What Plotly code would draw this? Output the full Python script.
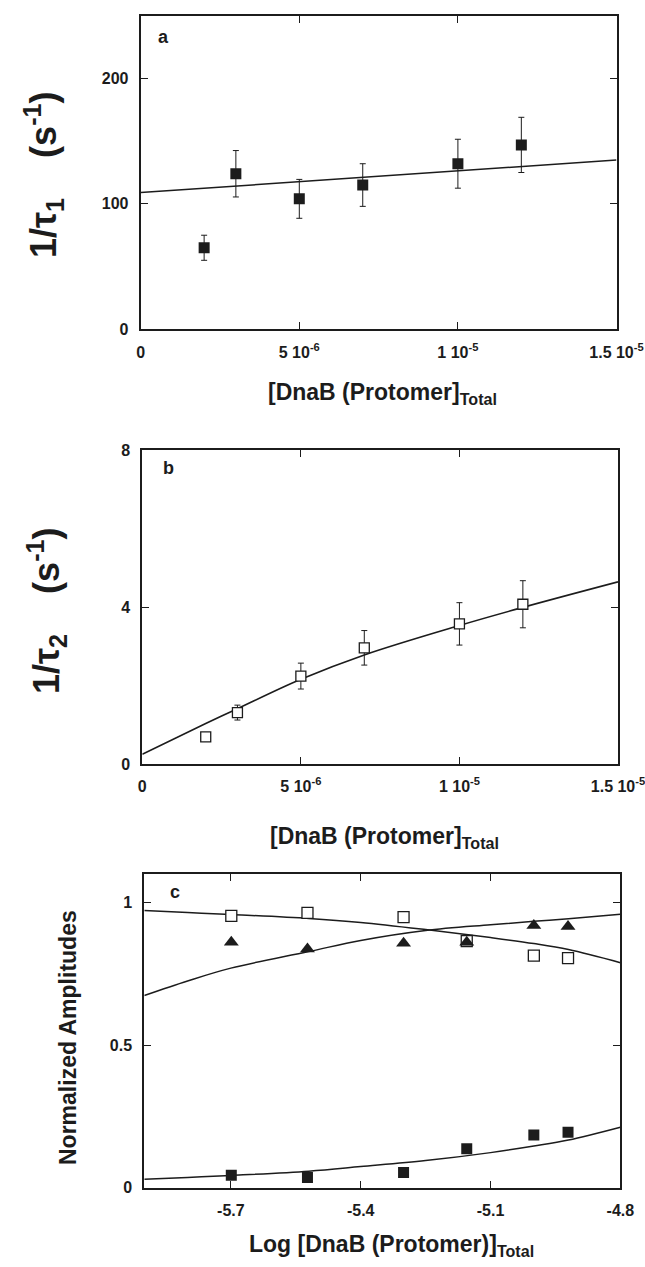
import plotly.graph_objects as go

# ---------------- data ----------------
# Panel a : 1/tau1 vs [DnaB]
a_x = [2e-6, 3e-6, 5e-6, 7e-6, 1e-5, 1.2e-5]
a_y = [65, 124, 104, 115, 132, 147]
a_err = [10, 18.5, 15.5, 17, 19.5, 22]
a_fit_x = [0, 1.5e-5]
a_fit_y = [109, 135]

# Panel b : 1/tau2 vs [DnaB]
b_x = [2e-6, 3e-6, 5e-6, 7e-6, 1e-5, 1.2e-5]
b_y = [0.69, 1.31, 2.24, 2.96, 3.57, 4.07]
b_err = [0.1, 0.19, 0.33, 0.44, 0.54, 0.6]
b_fit_x = [0, 2e-6, 3e-6, 5e-6, 7e-6, 1e-5, 1.2e-5, 1.5e-5]
b_fit_y = [0.25, 1.03, 1.41, 2.16, 2.78, 3.53, 3.99, 4.64]

# Panel c : normalized amplitudes vs log[DnaB]
c_x = [-5.699, -5.523, -5.301, -5.155, -5.0, -4.921]
c_open = [0.953, 0.964, 0.949, 0.865, 0.814, 0.805]
c_tri = [0.861, 0.837, 0.857, 0.861, 0.919, 0.916]
c_filled = [0.044, 0.036, 0.053, 0.137, 0.185, 0.194]
c_fit_x = [-5.9, -5.8, -5.7, -5.52, -5.4, -5.25, -5.1, -5.0, -4.92, -4.8]
c_fit_open = [0.972, 0.965, 0.958, 0.944, 0.930, 0.905, 0.877, 0.856, 0.835, 0.789]
c_fit_tri = [0.674, 0.725, 0.770, 0.828, 0.867, 0.902, 0.922, 0.934, 0.943, 0.959]
c_fit_filled = [0.030, 0.036, 0.043, 0.058, 0.074, 0.095, 0.123, 0.146, 0.167, 0.212]

conc_tickvals = [0, 5e-6, 1e-5, 1.5e-5]
conc_ticktext = ["0", "5 10<sup>-6</sup>", "1 10<sup>-5</sup>", "1.5 10<sup>-5</sup>"]
a_yticks = [0, 100, 200]
b_yticks = [0, 4, 8]
c_xticks = [-5.7, -5.4, -5.1, -4.8]
c_xticktext = ["-5.7", "-5.4", "-5.1", "-4.8"]
c_yticks = [0, 0.5, 1]
c_yticktext = ["0", "0.5", "1"]

# ---------------- styling ----------------
INK = "#1c1c1c"
FONT = "Liberation Sans, Arial, sans-serif"
W, H = 645, 1267


def px_x(v):
    return v / W


def px_y(v):
    return 1 - v / H


fig = go.Figure()

# Panel a
fig.add_trace(go.Scatter(x=a_fit_x, y=a_fit_y, mode="lines", line=dict(color=INK, width=1.5),
                         xaxis="x", yaxis="y", showlegend=False, hoverinfo="skip"))
fig.add_trace(go.Scatter(x=a_x, y=a_y, mode="markers",
                         marker=dict(symbol="square", size=11, color=INK),
                         error_y=dict(type="data", array=a_err, color=INK, thickness=1, width=3),
                         xaxis="x", yaxis="y", showlegend=False))

# Panel b
fig.add_trace(go.Scatter(x=b_fit_x, y=b_fit_y, mode="lines", line=dict(color=INK, width=1.6, shape="spline"),
                         xaxis="x2", yaxis="y2", showlegend=False, hoverinfo="skip"))
fig.add_trace(go.Scatter(x=b_x, y=b_y, mode="markers",
                         marker=dict(symbol="square", size=10, color="white", line=dict(color=INK, width=1.3)),
                         error_y=dict(type="data", array=b_err, color=INK, thickness=1, width=3),
                         xaxis="x2", yaxis="y2", showlegend=False))

# Panel c
for fy in (c_fit_open, c_fit_tri, c_fit_filled):
    fig.add_trace(go.Scatter(x=c_fit_x, y=fy, mode="lines", line=dict(color=INK, width=1.5, shape="spline"),
                             xaxis="x3", yaxis="y3", showlegend=False, hoverinfo="skip"))
fig.add_trace(go.Scatter(x=c_x, y=c_open, mode="markers",
                         marker=dict(symbol="square", size=11, color="white", line=dict(color=INK, width=1.3)),
                         xaxis="x3", yaxis="y3", showlegend=False))
fig.add_trace(go.Scatter(x=c_x, y=c_tri, mode="markers",
                         marker=dict(symbol="triangle-up", size=13, color=INK),
                         xaxis="x3", yaxis="y3", showlegend=False))
fig.add_trace(go.Scatter(x=c_x, y=c_filled, mode="markers",
                         marker=dict(symbol="square", size=11, color=INK),
                         xaxis="x3", yaxis="y3", showlegend=False))

tickfont = dict(family=FONT, size=16, color=INK, weight=700)

common = dict(showline=True, linecolor=INK, linewidth=2, mirror="ticks", ticks="inside",
              ticklen=7, tickwidth=1.2, tickcolor=INK, showgrid=False, zeroline=False,
              tickfont=tickfont, ticklabelstandoff=7, automargin=False,
              ticklabeloverflow="allow")

doms = {
    "a": dict(x=[px_x(140.7), px_x(616.5)], y=[px_y(329.3), px_y(15.7)]),
    "b": dict(x=[px_x(142.3), px_x(618.0)], y=[px_y(764.0), px_y(450.0)]),
    "c": dict(x=[px_x(144.3), px_x(620.4)], y=[px_y(1187.7), px_y(874.0)]),
}

fig.update_layout(
    template="none",
    width=W, height=H, margin=dict(l=0, r=0, t=0, b=0, pad=0), autosize=False,
    paper_bgcolor="white", plot_bgcolor="white", showlegend=False,
    xaxis=dict(domain=doms["a"]["x"], anchor="y", range=[0, 1.5e-5], tickvals=conc_tickvals,
               ticktext=conc_ticktext, **common),
    yaxis=dict(domain=doms["a"]["y"], anchor="x", range=[0, 250], tickvals=a_yticks, **common),
    xaxis2=dict(domain=doms["b"]["x"], anchor="y2", range=[0, 1.5e-5], tickvals=conc_tickvals,
                ticktext=conc_ticktext, **common),
    yaxis2=dict(domain=doms["b"]["y"], anchor="x2", range=[0, 8], tickvals=b_yticks, **common),
    xaxis3=dict(domain=doms["c"]["x"], anchor="y3", range=[-5.9, -4.8], tickvals=c_xticks,
                ticktext=c_xticktext, **common),
    yaxis3=dict(domain=doms["c"]["y"], anchor="x3", range=[0, 1.1], tickvals=c_yticks,
                ticktext=c_yticktext, **common),
)

# axis titles (placed as annotations for exact positioning)
xtitlefont = dict(family=FONT, size=23, color=INK, weight=700)
ytitlefont = dict(family=FONT, size=36, color=INK, weight=700)
ctitlefont = dict(family=FONT, size=23, color=INK, weight=700)
gap = "\u00a0" * 4
titles = [
    ("[DnaB (Protomer]<sub>Total</sub>", 382, 393, 0, xtitlefont),
    ("[DnaB (Protomer]<sub>Total</sub>", 385, 837, 0, xtitlefont),
    ("Log [DnaB (Protomer)]<sub>Total</sub>", 391, 1245, 0, xtitlefont),
    ("1/τ<sub>1</sub>" + gap + "(s<sup>-1</sup>)", 44, 175, -90, ytitlefont),
    ("1/τ<sub>2</sub>" + gap + "(s<sup>-1</sup>)", 46, 611, -90, ytitlefont),
    ("Normalized Amplitudes", 68, 1038, -90, ctitlefont),
]
for text, tx, ty, ang, fnt in titles:
    fig.add_annotation(text=text, x=px_x(tx), y=px_y(ty), xref="paper", yref="paper",
                       showarrow=False, font=fnt, textangle=ang,
                       xanchor="center", yanchor="middle")

panel_font = dict(family=FONT, size=18, color=INK, weight=700)
for label, (lx, ly) in {"a": (163, 37), "b": (168, 468), "c": (175, 892)}.items():
    fig.add_annotation(text=label, x=px_x(lx), y=px_y(ly), xref="paper", yref="paper",
                       showarrow=False, font=panel_font, xanchor="center", yanchor="middle")

fig.write_html("out.html")
